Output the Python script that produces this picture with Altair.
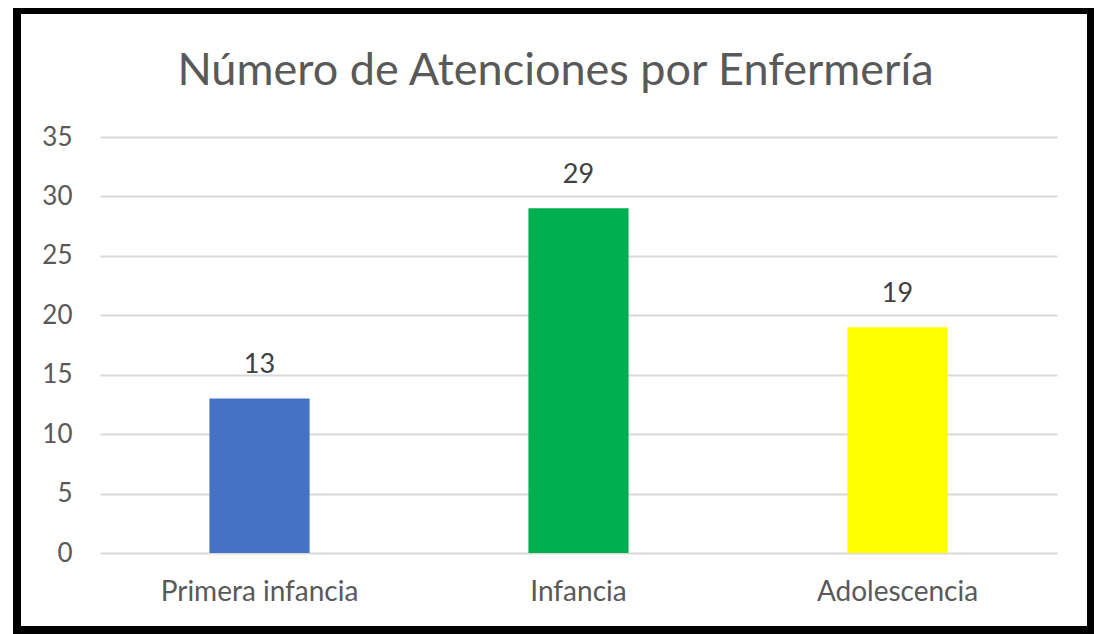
import altair as alt
import pandas as pd

categories = ["Primera infancia", "Infancia", "Adolescencia"]
values = [13, 29, 19]
colors = ["#4472C4", "#00B050", "#FFFF00"]

df = pd.DataFrame({"cat": categories, "val": values, "color": colors})

FONT = "Lato"

y_axis = alt.Axis(values=[0, 5, 10, 15, 20, 25, 30, 35], labelFontSize=26,
                  labelColor="#595959", labelFont=FONT, labelPadding=28,
                  ticks=False, domain=False, gridColor="#d9d9d9", gridWidth=2)

base = alt.Chart(df).encode(
    x=alt.X("cat:N", sort=categories, title=None,
            scale=alt.Scale(paddingInner=0.686, paddingOuter=0.343),
            axis=alt.Axis(labelAngle=0, labelFontSize=28, labelColor="#595959",
                          labelFont=FONT, labelPadding=25, ticks=False,
                          labelLimit=0, domain=False, grid=False)),
    y=alt.Y("val:Q", title=None, scale=alt.Scale(domain=[0, 35]), axis=y_axis),
)

bars = base.mark_bar().encode(
    color=alt.Color("color:N", scale=None),
)

labels = base.mark_text(dy=-19, fontSize=27, color="#404040", font=FONT,
                        baseline="bottom").encode(
    text=alt.Text("val:Q"),
)

frame = alt.Chart(df).mark_rect(fill=None, stroke="black", strokeWidth=8,
                                clip=False).encode(
    x=alt.value(-83), x2=alt.value(991), y=alt.value(-127), y2=alt.value(493)
)

chart = alt.layer(bars, labels, frame).properties(
    width=957, height=416,
    padding={"left": 92, "top": 129, "right": 37, "bottom": 81},
    autosize=alt.AutoSizeParams(type="none"),
    title=alt.TitleParams("Número de Atenciones por Enfermería", fontSize=45,
                          font=FONT, fontWeight="normal", color="#595959",
                          anchor="middle", offset=-88, dx=-23),
).configure(background="white").configure_view(strokeWidth=0, stroke=None)

chart.save("out.html", embed_options={"renderer": "svg", "actions": False})
